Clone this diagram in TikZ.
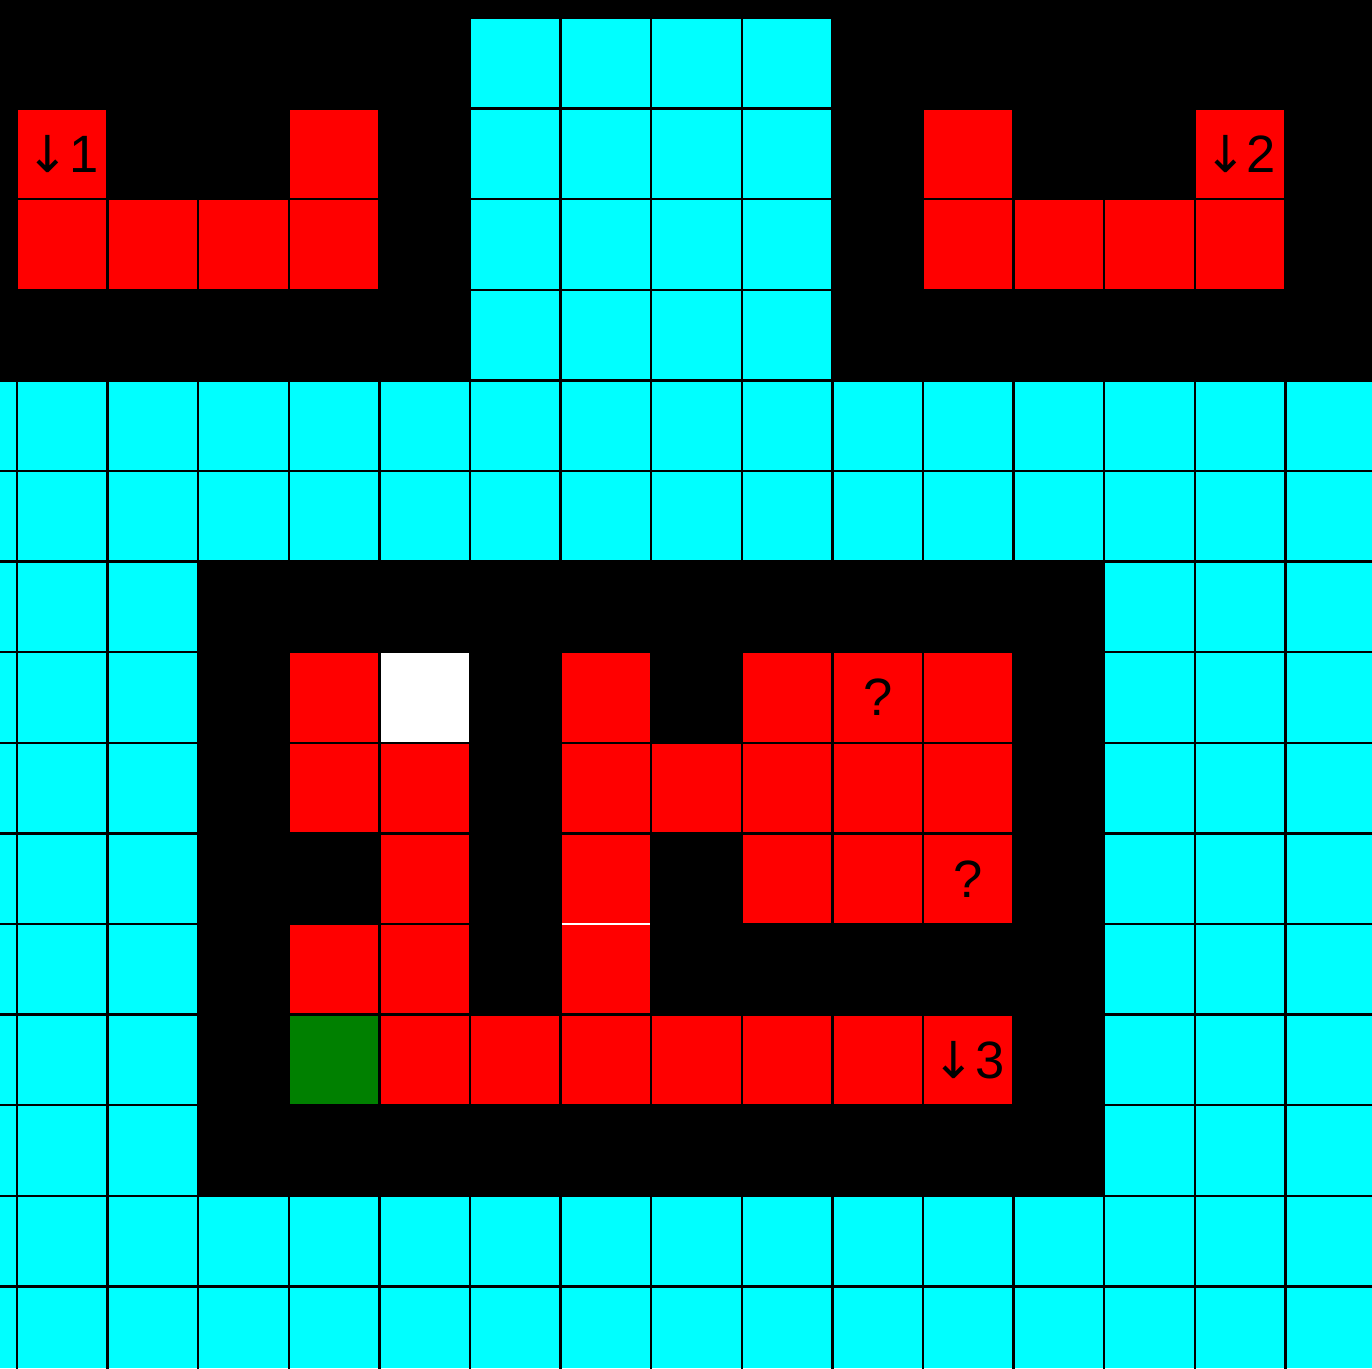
\documentclass[tikz,border=0pt]{standalone}
\usepackage{fontspec}
\setmainfont{Liberation Sans}
\newfontfamily\arrowfont{DejaVu Sans}
\newcommand{\dnarrow}{{\arrowfont\fontsize{16}{18}\selectfont ↓}}
\definecolor{cyanc}{RGB}{0,255,255}
\definecolor{redc}{RGB}{255,0,0}
\definecolor{greenc}{RGB}{0,128,0}
\begin{document}
\begin{tikzpicture}[x=1cm,y=-1cm,
  gridline/.style={line width=0.8pt, draw=black},
  cell/.style={minimum size=1cm, inner sep=0pt, outer sep=0pt, draw=black, line width=0.8pt, anchor=north west, font=\fontsize{16.5}{18}\selectfont},
  redcell/.style={cell, fill=redc},
  cyancell/.style={cell, fill=cyanc},
  whitecell/.style={cell, fill=white},
  greencell/.style={cell, fill=greenc},
  seam/.style={draw=white, line width=0.6pt}
]
\useasboundingbox (-0.1876,-0.1987) rectangle (14.956,14.901);
\begin{scope}
\clip (-0.1876,-0.1987) rectangle (14.956,14.901);
% top black band
\fill[black] (-0.1876,-0.1987) rectangle (14.956,4);
% cyan field
\fill[cyanc] (-0.1876,4) rectangle (14.956,14.901);
\foreach \k in {-1,...,15} \draw[gridline] (\k,4) -- (\k,15);
\foreach \k in {4,...,15} \draw[gridline] (-1,\k) -- (15,\k);
% inner black board
\fill[black] (2,6) rectangle (12,13);
\end{scope}
% top cyan block
\foreach \i in {5,...,8} \foreach \j in {0,...,3} \node[cyancell] (t-\i-\j) at (\i,\j) {};
% top-left piece
\node[redcell] (p1-0-1) at (0,1) {\dnarrow 1};
\node[redcell] (p1-3-1) at (3,1) {};
\foreach \i in {0,...,3} \node[redcell] (p1-\i-2) at (\i,2) {};
% top-right piece
\node[redcell] (p2-10-1) at (10,1) {};
\node[redcell] (p2-13-1) at (13,1) {\dnarrow 2};
\foreach \i in {10,...,13} \node[redcell] (p2-\i-2) at (\i,2) {};
% board
\node[redcell] (b-3-7) at (3,7) {};
\node[whitecell] (b-4-7) at (4,7) {};
\node[redcell] (b-6-7) at (6,7) {};
\node[redcell] (b-8-7) at (8,7) {};
\node[redcell] (b-9-7) at (9,7) {?};
\node[redcell] (b-10-7) at (10,7) {};
\foreach \i in {3,4,6,7,8,9,10} \node[redcell] (b-\i-8) at (\i,8) {};
\foreach \i in {4,6,8,9} \node[redcell] (b-\i-9) at (\i,9) {};
\node[redcell] (b-10-9) at (10,9) {?};
\foreach \i in {3,4,6} \node[redcell] (b-\i-10) at (\i,10) {};
\node[greencell] (b-3-11) at (3,11) {};
\foreach \i in {4,...,9} \node[redcell] (b-\i-11) at (\i,11) {};
\node[redcell] (b-10-11) at (10,11) {\dnarrow 3};
% white seam between the two red cells of column 6
\draw[seam] ([xshift=0.4pt]b-6-10.north west) -- ([xshift=-0.4pt]b-6-10.north east);
\end{tikzpicture}
\end{document}
